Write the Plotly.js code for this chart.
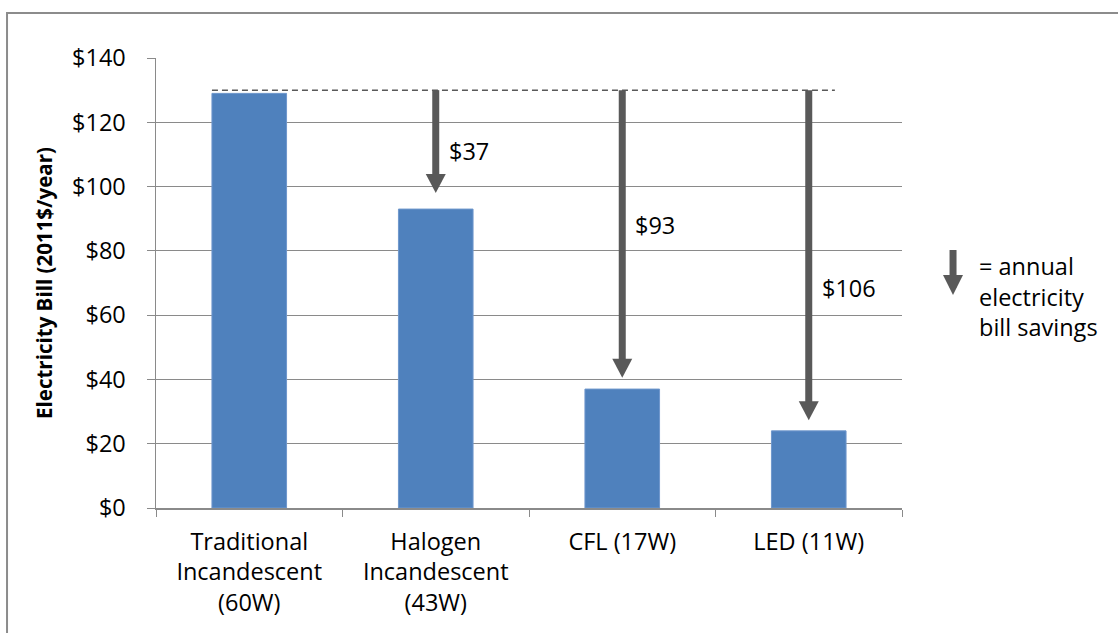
<!DOCTYPE html>
<html>
<head>
<meta charset="utf-8">
<script src="https://cdn.plot.ly/plotly-3.0.1.min.js"></script>
<style>html,body{margin:0;padding:0;background:#fff}#chart{width:1118px;height:633px}</style>
</head>
<body>
<div id="chart"></div>
<script>
// ---- data ----
const categories = ["Traditional<br>Incandescent<br>(60W)", "Halogen<br>Incandescent<br>(43W)", "CFL (17W)", "LED (11W)"];
const bills = [129, 93, 37, 24];
const baseline = 130;                 // reference bill (dashed line)
const savings = [37, 93, 106];        // annual savings for Halogen, CFL, LED
const savingsIndex = [1, 2, 3];       // category index of each arrow
const arrowTips = [98, 40.5, 27.3];   // where each arrow ends
const labelPos = [111, 88, 68.5];     // vertical placement of savings labels
const yTicks = [0, 20, 40, 60, 80, 100, 120, 140];

const FONT = "Open Sans, sans-serif";
const FS = 23.5;
const GRAY = "#595959";
const GRID = "#8a8a8a";

const shapes = [];
const annotations = [];

// outer border
shapes.push({type: "rect", xref: "paper", yref: "paper", x0: -0.1997, x1: 1.31, y0: -0.31, y1: 1.1,
  line: {color: "#8c8c8c", width: 2}, layer: "below"});

// dashed baseline
shapes.push({type: "line", xref: "x", yref: "y", x0: -0.2, x1: 3.14, y0: baseline, y1: baseline,
  line: {color: GRAY, width: 1.5, dash: "6px,4px"}});

// arrows
savingsIndex.forEach((ci, k) => {
  const tip = arrowTips[k];
  shapes.push({type: "line", xref: "x", yref: "y", x0: ci, x1: ci, y0: baseline, y1: tip + 3,
    line: {color: GRAY, width: 7}});
  shapes.push({type: "path", xref: "x", yref: "y", xsizemode: "pixel", ysizemode: "pixel",
    xanchor: ci, yanchor: tip, path: "M -10,19 L 10,19 L 0,0 Z",
    fillcolor: GRAY, line: {width: 0}});
  annotations.push({xref: "x", yref: "y", x: ci, y: labelPos[k], xanchor: "left", yanchor: "middle",
    xshift: 11, text: "$" + savings[k], showarrow: false, font: {family: FONT, size: FS, color: "#000"}});
});

// legend arrow (key)
const kx = 1.0684;
shapes.push({type: "line", xref: "paper", yref: "paper", x0: kx, x1: kx, y0: 0.5733, y1: 0.49,
  line: {color: GRAY, width: 7}});
shapes.push({type: "path", xref: "paper", yref: "paper", xsizemode: "pixel", ysizemode: "pixel",
  xanchor: kx, yanchor: 0.4733, path: "M -10,20 L 10,20 L 0,0 Z", fillcolor: GRAY, line: {width: 0}});
annotations.push({xref: "paper", yref: "paper", x: 1.1, y: 0.469, xanchor: "left", yanchor: "middle",
  align: "left", showarrow: false, text: "= annual<br>electricity<br>bill savings",
  font: {family: FONT, size: FS, color: "#000"}});

const trace = {
  type: "bar", x: categories, y: bills,
  marker: {color: "#4F81BD", line: {color: "#6F97CC", width: 1}},
  hoverinfo: "none"
};

const layout = {
  width: 1118, height: 633,
  margin: {l: 156, r: 216, t: 58, b: 125, pad: 0},
  paper_bgcolor: "#fff", plot_bgcolor: "#fff",
  showlegend: false, bargap: 0.6,
  font: {family: FONT, size: FS, color: "#000"},
  xaxis: {type: "category", tickson: "boundaries", ticks: "outside", ticklen: 7, tickcolor: GRID,
    showline: true, linecolor: GRID, linewidth: 1.5, showgrid: false, ticklabelstandoff: 12,
    tickfont: {family: FONT, size: FS, color: "#000"}},
  yaxis: {range: [0, 140], tickvals: yTicks, ticktext: yTicks.map(v => "$" + v),
    ticks: "outside", ticklen: 8, tickcolor: GRID, ticklabelstandoff: 16,
    showline: true, linecolor: GRID, linewidth: 1.5, showgrid: true, gridcolor: GRID, gridwidth: 1,
    zeroline: false, tickfont: {family: FONT, size: FS, color: "#000"},
    title: {text: "Electricity Bill (2011$/year)", standoff: 14,
      font: {family: FONT, size: 20.5, color: "#000", weight: "bold"}}},
  shapes: shapes, annotations: annotations
};

Plotly.newPlot("chart", [trace], layout, {displayModeBar: false, staticPlot: true});
</script>
</body>
</html>
